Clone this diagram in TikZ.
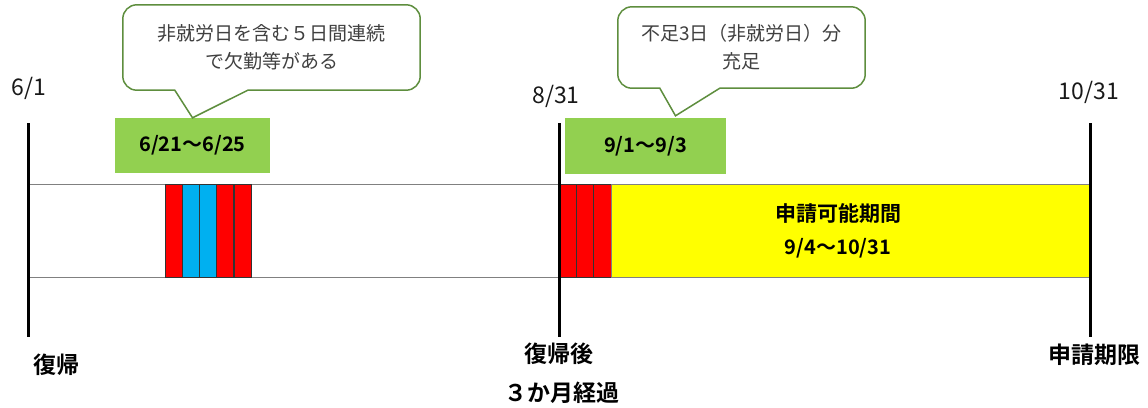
\documentclass[tikz,border=0pt]{standalone}
\usepackage{fontspec}
\setmainfont{Noto Sans CJK JP}[BoldFont={Noto Sans CJK JP Bold}]
\usetikzlibrary{positioning}
\definecolor{offred}{HTML}{FF0000}
\definecolor{offblue}{HTML}{00B0F0}
\definecolor{okyellow}{HTML}{FFFF00}
\definecolor{tagGreen}{HTML}{92D050}
\definecolor{calloutGreen}{HTML}{5E8E3E}
\definecolor{noteGray}{HTML}{404040}

\begin{document}
\begin{tikzpicture}[
  x=1pt, y=-1pt,
  tick/.style={line width=3pt,black},
  band/.style={draw=black!50,line width=1.3pt,minimum width=1062pt,minimum height=93pt,inner sep=0pt,anchor=north west},
  dayblock/.style={draw=black!80,line width=0.8pt,minimum width=17pt,minimum height=93pt,inner sep=0pt,anchor=north west},
  tagbox/.style={fill=tagGreen,inner sep=0pt,font=\bfseries\fontsize{20}{22}\selectfont},
  notebox/.style={inner sep=0pt,align=center,text=noteGray,font=\fontsize{19}{28}\selectfont},
  noteline/.style={draw=calloutGreen,line width=1.5pt,fill=white},
  datelabel/.style={font=\fontsize{23}{26}\selectfont,text=black!90},
  eventlabel/.style={font=\bfseries\fontsize{23}{26}\selectfont}
]
  \useasboundingbox (0,0) rectangle (1148,407);

  % timeline band
  \node[band] (bar) at (28,184) {};

  % days off
  \node[dayblock,fill=offred]  (r1) at (165,184) {};
  \node[dayblock,fill=offblue] (r2) at (182,184) {};
  \node[dayblock,fill=offblue] (r3) at (199,184) {};
  \node[dayblock,fill=offred]  (r4) at (216,184) {};
  \node[dayblock,fill=offred]  (r5) at (234,184) {};

  % made-up days
  \node[dayblock,fill=offred] (m1) at (559,184) {};
  \node[dayblock,fill=offred] (m2) at (576,184) {};
  \node[dayblock,fill=offred,minimum width=18pt] (m3) at (593,184) {};

  % period for application
  \node[band,fill=okyellow,minimum width=479pt] (apply) at (611,184) {};
  \node[font=\bfseries\fontsize{21}{24}\selectfont] (applyA) at (838,213) {申請可能期間};
  \node[font=\bfseries\fontsize{20}{22}\selectfont] (applyB) at (838,248) {9/4～10/31};

  % ticks
  \coordinate (t1) at (28,123);
  \coordinate (b1) at (28,337);
  \coordinate (t2) at (559,123);
  \coordinate (b2) at (559,337);
  \coordinate (t3) at (1090,123);
  \coordinate (b3) at (1090,337);
  \draw[tick] (t1) -- (b1);
  \draw[tick] (t2) -- (b2);
  \draw[tick] (t3) -- (b3);

  % dates
  \node[datelabel] (d1) at (29,88) {6/1};
  \node[datelabel] (d2) at (556,96) {8/31};
  \node[datelabel] (d3) at (1089,92) {10/31};

  % events
  \node[eventlabel] (e1) at (56,365) {復帰};
  \node[eventlabel] (e2) at (559,354) {復帰後};
  \node[eventlabel] (e3) at (562,393) {３か月経過};
  \node[eventlabel] (e4) at (1094,355) {申請期限};

  % green tags
  \node[tagbox,minimum width=155pt,minimum height=55pt] (g1) at (192.5,145.5) {6/21～6/25};
  \node[tagbox,minimum width=161pt,minimum height=56pt] (g2) at (645.5,146) {9/1～9/3};

  % callouts
  \node[minimum width=297pt,minimum height=85pt,inner sep=0pt] (c1) at (271.5,47.5) {};
  \draw[noteline] ([xshift=125pt]c1.south west) [rounded corners=14pt] -- (c1.south east) -- (c1.north east)
    -- (c1.north west) -- (c1.south west) [sharp corners] -- ([xshift=52pt]c1.south west) -- (g1.north) -- cycle;
  \node[notebox] (n1) at (c1.center) {非就労日を含む５日間連続\\で欠勤等がある};

  \node[minimum width=247pt,minimum height=81pt,inner sep=0pt] (c2) at (741.5,47.5) {};
  \draw[noteline] ([xshift=102pt]c2.south west) [rounded corners=14pt] -- (c2.south east) -- (c2.north east)
    -- (c2.north west) -- (c2.south west) [sharp corners] -- ([xshift=42pt]c2.south west) -- ([xshift=30pt,yshift=2pt]g2.north) -- cycle;
  \node[notebox] (n2) at (c2.center) {不足3日（非就労日）分\\充足};

\end{tikzpicture}
\end{document}
